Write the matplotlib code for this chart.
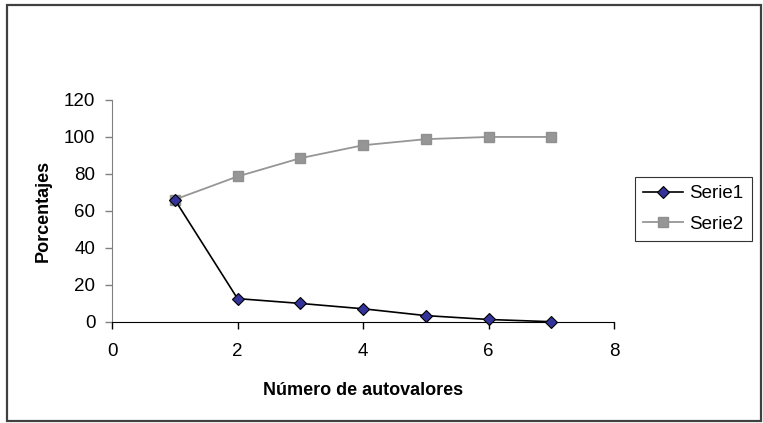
import matplotlib
matplotlib.use("Agg")
import matplotlib.pyplot as plt
from matplotlib.patches import Rectangle

x = [1, 2, 3, 4, 5, 6, 7]
serie1 = [66.1, 12.5, 9.9, 7.0, 3.3, 1.2, 0.0]
serie2 = [66.1, 78.6, 88.5, 95.5, 98.8, 100.0, 100.0]
xticks = [0, 2, 4, 6, 8]
yticks = [0, 20, 40, 60, 80, 100, 120]

plt.rcParams['font.family'] = ['Liberation Sans', 'DejaVu Sans']

fig = plt.figure(figsize=(7.63, 4.23), dpi=100)
fig.patches.append(Rectangle((7/763, 1-421/423), (761-7)/763, (421-5)/423,
                             transform=fig.transFigure, fill=False,
                             edgecolor='#404040', linewidth=1.6))
ax = fig.add_axes([112/763, 1-321.7/423, (614-112)/763, (321.7-100)/423])

ax.plot(x, serie2, color='#969696', linewidth=1.3, marker='s', markersize=7,
        markerfacecolor='#969696', markeredgecolor='#909090', label='Serie2',
        zorder=2, clip_on=False)
ax.plot(x, serie1, color='black', linewidth=1.2, marker='D', markersize=6.5,
        markerfacecolor='#333399', markeredgecolor='black', markeredgewidth=0.8,
        label='Serie1', zorder=3, clip_on=False)

ax.set_xlim(0, 8)
ax.set_ylim(0, 120)
ax.set_xticks(xticks)
ax.set_yticks(yticks)
for s in ['top', 'right']:
    ax.spines[s].set_visible(False)
ax.spines['left'].set_color('#808080')
ax.spines['bottom'].set_color('black')
ax.tick_params(axis='both', labelsize=13.5, direction='out', length=5, width=1)
ax.tick_params(axis='x', pad=10)
ax.tick_params(axis='y', colors='#808080', labelcolor='black', pad=7)
ax.set_xlabel('Número de autovalores', fontsize=13, fontweight='bold', labelpad=16)
ax.set_ylabel('Porcentajes', fontsize=13, fontweight='bold', labelpad=9)

h, l = ax.get_legend_handles_labels()
leg = fig.legend(h[::-1], l[::-1], loc='center left',
                 bbox_to_anchor=(635/763, 1-209/423), fontsize=13.5,
                 frameon=True, fancybox=False, handlelength=2.1, borderpad=0.45,
                 labelspacing=0.7, handletextpad=0.35, borderaxespad=0)
leg.get_frame().set_edgecolor('black')
leg.get_frame().set_linewidth(0.8)

fig.savefig('out.png', dpi=100)
